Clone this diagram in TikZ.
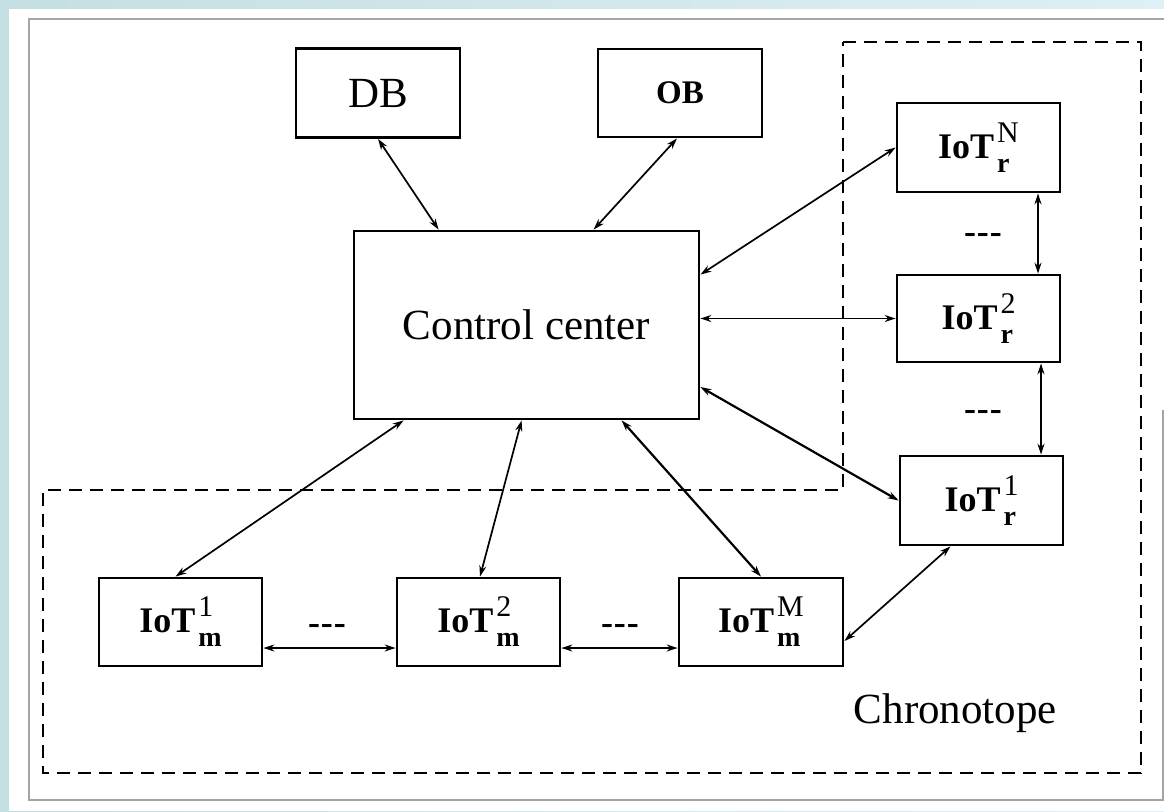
\documentclass[tikz,border=0pt]{standalone}
\usepackage{fontspec}
\setmainfont{Liberation Serif}
\usetikzlibrary{arrows.meta,calc}

\definecolor{bgleft}{RGB}{196,223,226}
\definecolor{bgright}{RGB}{222,239,245}
\definecolor{framegray}{RGB}{165,165,165}

% fonts for the indices of the IoT labels
\newcommand\iotsupfont{\fontsize{30}{30}\selectfont}
\newcommand\iotsubfont{\fontsize{28}{28}\selectfont\bfseries}
\newlength\iotsubwd
\newlength\iotsupwd
% \iotlabel{subscript}{superscript}
\newcommand\iotlabel[2]{%
  \settowidth\iotsubwd{\iotsubfont #1}\settowidth\iotsupwd{\iotsupfont #2}%
  \ifdim\iotsupwd>\iotsubwd\iotsubwd=\iotsupwd\fi
  \textbf{IoT}\kern3pt\rlap{\raisebox{16pt}{\iotsupfont #2}}%
  \raisebox{-14pt}{\makebox[\iotsubwd][l]{\iotsubfont #1}}}

\tikzset{
  box/.style={draw, line width=2.8pt, rectangle, inner sep=0pt},
  bigbox/.style={box, font=\fontsize{43}{43}\selectfont},
  iotbox/.style={box, minimum width=163pt, minimum height=88pt,
                 font=\fontsize{36}{36}\selectfont},
  link/.style={line width=1.7pt,
               {Stealth[length=11pt,width=7pt]}-{Stealth[length=11pt,width=7pt]}},
  heavylink/.style={link, line width=2.2pt},
  region/.style={line width=1.7pt, dash pattern=on 13pt off 8pt, line join=miter},
  gapmark/.style={font=\fontsize{36}{36}\selectfont\bfseries, inner sep=0pt},
}

\begin{document}
\begin{tikzpicture}[x=1pt, y=-1pt]
\useasboundingbox (0,0) rectangle (1164,811);

% backdrop and page frame
\shade[left color=bgleft, right color=bgright] (0,0) rectangle (1164,811);
\fill[white] (9,9) rectangle (1164,811);
\draw[framegray, line width=1.5pt] (1164,19) -- (29,19) -- (29,800) -- (1163,800) -- (1163,410);

% chronotope region
\draw[region] (843,42) -- (1141,42) -- (1141,773) -- (43,773) -- (43,490) -- (843,490) -- cycle;
\node[font=\fontsize{43}{43}\selectfont, anchor=base, inner sep=0pt] (chrono) at (955.5,723) {Chronotope};

% top level blocks
\node[bigbox, minimum width=164pt, minimum height=89pt] (db) at (378,93) {DB};
\node[box, minimum width=164pt, minimum height=88pt, font=\fontsize{33}{33}\selectfont\bfseries] (ob) at (680,93) {OB};
\node[bigbox, minimum width=345pt, minimum height=188pt] (cc) at (526.5,325) {Control center};

% IoT devices, right column
\node[iotbox, minimum height=89pt] (rN) at (978.5,147.5) {\iotlabel{r}{N}};
\node[iotbox, minimum height=87pt] (r2) at (978.5,318.5) {\iotlabel{r}{2}};
\node[iotbox, minimum height=89pt] (r1) at (981.5,500.5) {\iotlabel{r}{1}};

% IoT devices, bottom row
\node[iotbox] (m1) at (180.5,622) {\iotlabel{m}{1}};
\node[iotbox] (m2) at (478.5,622) {\iotlabel{m}{2}};
\node[iotbox, minimum width=164pt] (mM) at (761,622) {\iotlabel{m}{M}};

% omitted devices
\node[gapmark] (g1) at (327,629) {-\kern1pt-\kern1pt-};
\node[gapmark] (g2) at (620,629) {-\kern1pt-\kern1pt-};
\node[gapmark] (g3) at (983,238) {-\kern1pt-\kern1pt-};
\node[gapmark] (g4) at (983,415) {-\kern1pt-\kern1pt-};

% links to the control center
\draw[link] (db.south) -- ([xshift=86pt]cc.north west);
\draw[link] ([xshift=-3pt]ob.south) -- ([xshift=241pt]cc.north west);
\draw[link] ([yshift=-45pt]cc.north east) -- (rN.west);
\draw[link] (cc.east |- r2.west) -- (r2.west);
\draw[heavylink] ([yshift=-62pt]cc.east) -- (r1.west);
\draw[link] ([xshift=51pt]cc.south west) -- ([xshift=-5pt]m1.north);
\draw[link] ([xshift=169pt]cc.south west) -- ([xshift=1.5pt]m2.north);
\draw[heavylink] ([xshift=269pt]cc.south west) -- (mM.north);

% links between neighbouring devices
\draw[link] ([yshift=-26pt]m1.east) -- ([yshift=-26pt]m2.west);
\draw[link] ([yshift=-26pt]m2.east) -- ([yshift=-26pt]mM.west);
\draw[link] ([yshift=-19pt]mM.east) -- ([xshift=-31pt]r1.south);
\draw[heavylink] ([xshift=59.5pt]rN.south) -- ([xshift=59.5pt]r2.north);
\draw[heavylink] ([xshift=62.5pt]r2.south) -- ([xshift=59.5pt]r1.north);
\end{tikzpicture}
\end{document}
